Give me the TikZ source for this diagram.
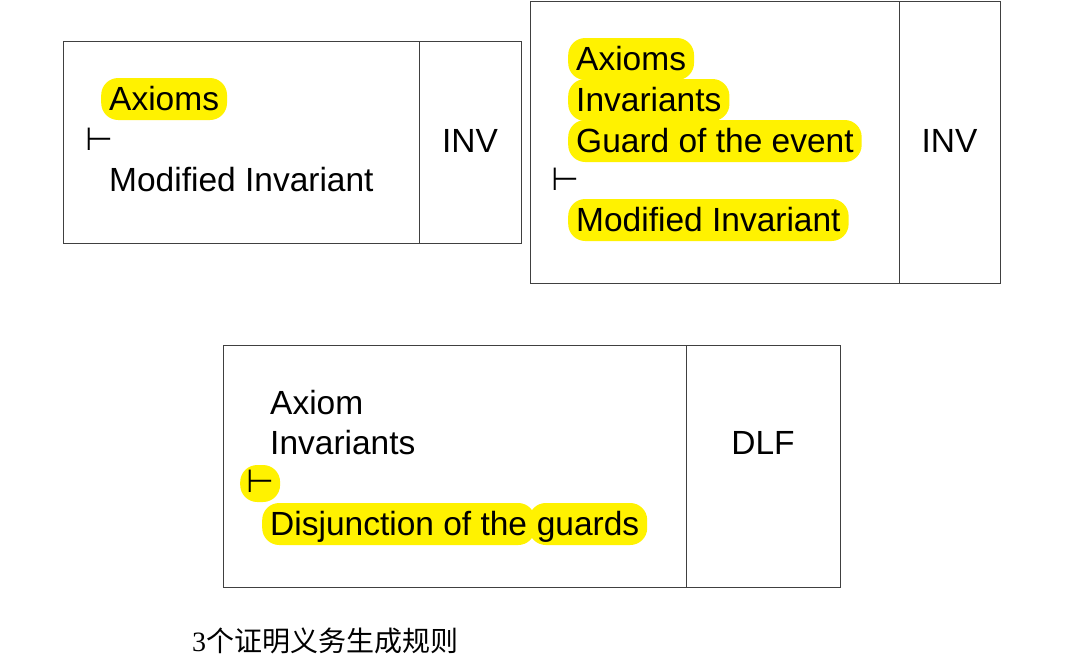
\documentclass[tikz,border=0pt]{standalone}
\usepackage{fontspec}
\setmainfont{Liberation Sans}
\newfontfamily\symfont{DejaVu Sans}
\newfontfamily\cjk{Noto Sans CJK SC}
\newfontfamily\serifdigits{Liberation Serif}
\begin{document}
\begin{tikzpicture}[x=1pt,y=-1pt,
  cell/.style={draw=black!75, line width=1pt, inner sep=0pt, anchor=north west},
  txt/.style={font=\fontsize{33.5}{40}\selectfont, inner sep=0pt, anchor=base west},
  hl/.style={txt, fill=yellow, rounded corners=17pt, inner xsep=8pt, inner ysep=0pt, text height=32pt, text depth=10pt},
  turn/.style={font=\symfont\fontsize{32}{36}\selectfont, inner sep=0pt, anchor=base west},
  hlturn/.style={turn, fill=yellow, rounded corners=17pt, inner xsep=6pt, inner ysep=0pt, text height=27pt, text depth=10pt},
  lab/.style={font=\fontsize{33.5}{40}\selectfont, inner sep=0pt, anchor=base},
  captext/.style={inner sep=0pt, anchor=base west}
]
\useasboundingbox (0,0) rectangle (1084,662);
\fill[white] (0,0) rectangle (1084,662);

% Box 1
\node[cell, minimum width=356pt, minimum height=202pt] (b1l) at (63,41) {};
\node[cell, minimum width=102pt, minimum height=202pt] (b1r) at (419,41) {};
\node[hl] (b1a) at (101,110) {Axioms};
\node[turn] (b1t) at (85,150) {⊢};
\node[txt] (b1m) at (109,191) {Modified Invariant};
\node[lab] (b1inv) at (470,152) {INV};

% Box 2
\node[cell, minimum width=369pt, minimum height=282pt] (b2l) at (530,1) {};
\node[cell, minimum width=101pt, minimum height=282pt] (b2r) at (899,1) {};
\node[hl] (b2a) at (568,70) {Axioms};
\node[hl] (b2i) at (568,111) {Invariants};
\node[hl] (b2g) at (568,152) {Guard of the event};
\node[turn] (b2t) at (551,190) {⊢};
\node[hl] (b2m) at (568,231) {Modified Invariant};
\node[lab] (b2inv) at (949.5,152) {INV};

% Box 3
\node[cell, minimum width=463pt, minimum height=242pt] (b3l) at (223,345) {};
\node[cell, minimum width=154pt, minimum height=242pt] (b3r) at (686,345) {};
\node[txt] (b3a) at (270,414) {Axiom};
\node[txt] (b3i) at (270,454) {Invariants};
\node[hlturn] (b3t) at (240,492) {⊢};
\node[hl] (b3d) at (262,535) {Disjunction of the};
\node[hl, xshift=-6.8pt] (b3g) at (b3d.base east) {guards};
\node[lab] (b3dlf) at (763,454) {DLF};

% Caption
\node[captext] (caption) at (192,651) {\fontsize{28}{32}\selectfont\serifdigits 3\cjk 个证明义务生成规则};
\end{tikzpicture}
\end{document}
